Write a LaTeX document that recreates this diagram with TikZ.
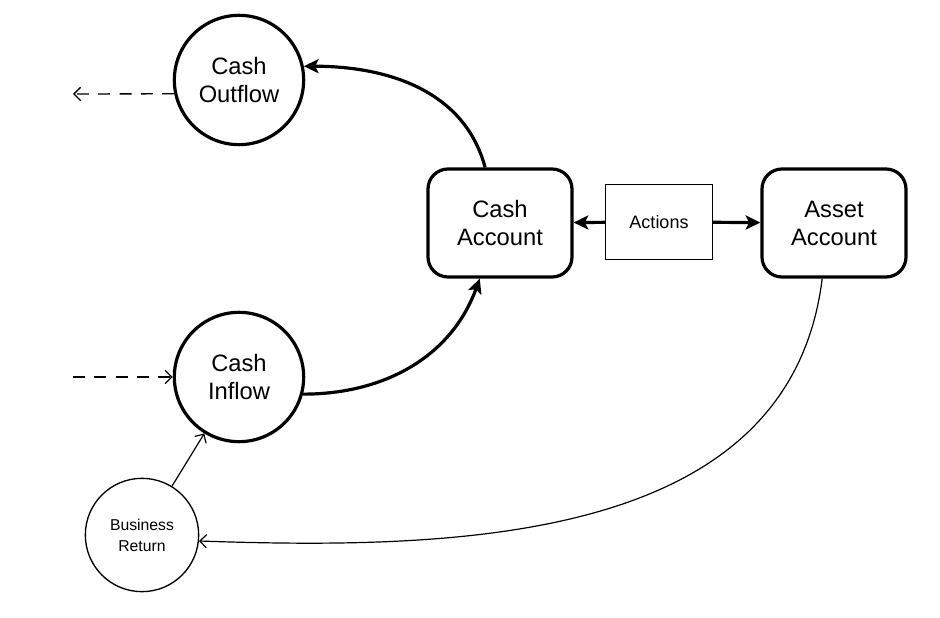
\documentclass[tikz,border=0pt]{standalone}
\usepackage{fontspec}
\setmainfont{Liberation Sans}
\usetikzlibrary{arrows.meta,positioning,calc}

\begin{document}
\begin{tikzpicture}[
    x=0.75pt, y=0.75pt,
    flow/.style={draw, circle, line width=2.4pt, minimum size=97pt, align=center, font=\fontsize{17.8}{21}\selectfont},
    account/.style={draw, rectangle, rounded corners=15pt, line width=2.4pt, minimum width=108pt, minimum height=81pt, align=center, font=\fontsize{17.8}{21}\selectfont},
    actbox/.style={draw, rectangle, line width=1pt, minimum width=80pt, minimum height=56pt, font=\fontsize{13.5}{16}\selectfont},
    small/.style={draw, circle, line width=1pt, minimum size=85pt, align=center, font=\fontsize{11.8}{15.8}\selectfont},
    heavy/.style={-{Stealth[length=11pt, width=10.5pt, inset=2.5pt]}, line width=2.4pt},
    light/.style={-{Straight Barb[length=5pt, width=10pt]}, line width=0.9pt},
    loose/.style={-{Straight Barb[length=5pt, width=10pt]}, line width=1pt, dash pattern=on 9pt off 7pt},
]
\useasboundingbox (0,0) rectangle (940,618);

% Flows
\node[flow] (outflow) at (239, 538) {Cash\\Outflow};
\node[flow] (inflow) at (239, 241) {Cash\\Inflow};
\node[small] (business) at (142, 83) {Business\\Return};

% Accounts
\node[account] (cashacc) at (500, 395) {Cash\\Account};
\node[account] (assetacc) at (834, 395) {Asset\\Account};
\node[actbox] (actions) at (659, 396) {Actions};

\coordinate (outend) at (73, 524);
\coordinate (instart) at (73, 241);

\draw[heavy] (actions) -- (cashacc);
\draw[heavy] (actions) -- (assetacc);
\draw[heavy] (cashacc.105) to[out=105, in=0] (outflow.12);
\draw[heavy] (inflow.-15) to[out=0, in=250] (cashacc.250);

\draw[light] (assetacc.258) to[out=263, in=-2, looseness=1.0] (business.-6);
\draw[light] (business) -- (inflow);

% Outside
\draw[loose] (outflow.192) -- (outend);
\draw[loose] (instart) -- (inflow);

\end{tikzpicture}
\end{document}
